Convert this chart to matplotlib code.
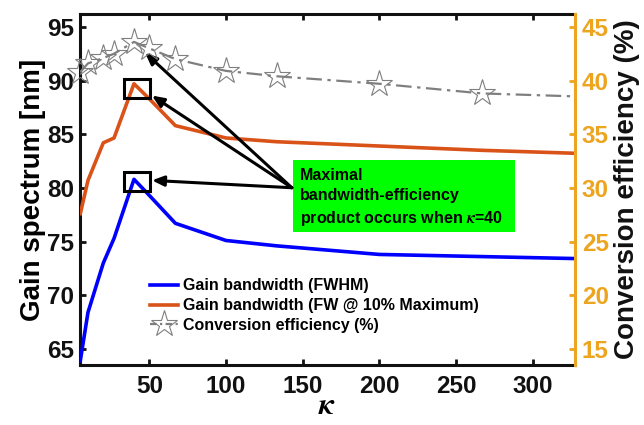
import matplotlib
matplotlib.use('Agg')
import matplotlib.pyplot as plt
from matplotlib.lines import Line2D
from matplotlib.patches import Rectangle

plt.rcParams['font.family'] = ['Liberation Sans', 'DejaVu Sans']
plt.rcParams['font.weight'] = 'bold'
plt.rcParams['mathtext.fontset'] = 'stix'

# ---- data ----
kappa = [5, 10, 20, 27, 40, 50, 67, 100, 133, 200, 267, 333]
fwhm = [63.9, 68.4, 73.0, 75.3, 80.8, 79.3, 76.7, 75.1, 74.6, 73.8, 73.6, 73.4]
fw10 = [77.6, 80.7, 84.2, 84.65, 89.7, 88.3, 85.8, 84.65, 84.3, 83.9, 83.5, 83.2]
eff = [40.8, 41.6, 42.1, 42.5, 43.6, 43.0, 42.0, 40.9, 40.4, 39.7, 38.8, 38.5]

xticks = [50, 100, 150, 200, 250, 300]
yticks_left = [65, 70, 75, 80, 85, 90, 95]
yticks_right = [15, 20, 25, 30, 35, 40, 45]

labels = ['Gain bandwidth (FWHM)', 'Gain bandwidth (FW @ 10% Maximum)',
          'Conversion efficiency (%)']

BLUE = '#0000FF'
RED = '#D95319'
GRAY = '#7F7F7F'
ORANGE = '#EDA41E'

fig = plt.figure(figsize=(6.44, 4.25), dpi=100)
ax = fig.add_axes([80/644, 60/425, 495/644, 351/425])
ax2 = ax.twinx()

ax.plot(kappa, fwhm, color=BLUE, lw=2.6, zorder=3)
ax.plot(kappa, fw10, color=RED, lw=2.6, zorder=3)

xmin, xmax = 4.8, 327.6
ax.set_xlim(xmin, xmax)
ax.set_ylim(63.5, 96.2)
ax2.set_ylim(13.5, 46.2)

# efficiency line (clipped) + markers for points inside range
ax2.plot(kappa, eff, color=GRAY, lw=1.6, ls=(0, (7, 2.5, 1.5, 2.5)), zorder=3)
kin = [k for k in kappa if xmin <= k <= xmax]
ein = [e for k, e in zip(kappa, eff) if xmin <= k <= xmax]
ax2.plot(kin, ein, ls='none', marker='*', ms=20, mfc='none', mec=GRAY, mew=0.8,
         clip_on=False, zorder=3)

# ticks
ax.set_xticks(xticks)
ax.set_yticks(yticks_left)
ax2.set_yticks(yticks_right)
ax.tick_params(axis='both', direction='in', length=4, width=2, labelsize=17.5,
               colors='#111111', top=True, right=False, pad=7)
ax.tick_params(axis='y', pad=4)
ax2.tick_params(axis='y', direction='in', length=4, width=2, labelsize=17.5,
                colors=ORANGE, pad=5)
for t in ax.get_xticklabels() + ax.get_yticklabels() + ax2.get_yticklabels():
    t.set_fontweight('bold')

for s in ['left', 'bottom', 'top']:
    ax.spines[s].set_linewidth(2.2)
    ax.spines[s].set_color('#111111')
    ax2.spines[s].set_visible(False)
ax.spines['right'].set_visible(False)
ax2.spines['right'].set_color(ORANGE)
ax2.spines['right'].set_linewidth(2.2)

ax.set_ylabel('Gain spectrum [nm]', fontsize=20, fontweight='bold', labelpad=1)
ax2.set_ylabel('Conversion efficiency (%)', fontsize=20, fontweight='bold',
               color='#111111', labelpad=4)
ax.set_xlabel(r'$\kappa$', fontsize=22, labelpad=-5)

# highlight boxes
ax.add_patch(Rectangle((33.5, 79.75), 16.8, 1.75, fill=False, ec='black', lw=2.2, zorder=5))
ax.add_patch(Rectangle((33.5, 88.35), 16.8, 1.75, fill=False, ec='black', lw=2.2, zorder=5))

# green annotation box
ax.add_patch(Rectangle((0.430, 0.379), 0.449, 0.205, transform=ax.transAxes,
                       fc='#00FF00', ec='none', zorder=6))
ax.text(0.444, 0.560, 'Maximal\nbandwidth-efficiency\nproduct occurs when $\\mathit{\\kappa}$=40',
        transform=ax.transAxes, ha='left', va='top', fontsize=11.5, fontweight='bold',
        linespacing=1.4, zorder=6)

tail = (0.428, 0.505)
heads = [(51.7, 80.7), (51.7, 88.6), (47.2, 92.6)]
for hx, hy in heads:
    ax.annotate('', xy=(hx, hy), xycoords='data', xytext=tail, textcoords='axes fraction',
                arrowprops=dict(arrowstyle='-|>,head_length=0.7,head_width=0.3',
                                color='black', lw=2.2, shrinkA=0, shrinkB=0),
                zorder=7)

handles = [Line2D([], [], color=BLUE, lw=2.6),
           Line2D([], [], color=RED, lw=2.6),
           Line2D([], [], color=GRAY, lw=1.6, ls=(0, (3, 1.5, 1, 1.5)), marker='*',
                  ms=20, mfc='none', mec=GRAY, mew=0.8)]
leg = ax2.legend(handles, labels, loc='upper left', bbox_to_anchor=(0.128, 0.265),
                 frameon=False, fontsize=11.5, handlelength=1.75, handletextpad=0.35,
                 labelspacing=0.3, borderaxespad=0)
for t in leg.get_texts():
    t.set_fontweight('bold')

fig.savefig('out.png', dpi=100)
